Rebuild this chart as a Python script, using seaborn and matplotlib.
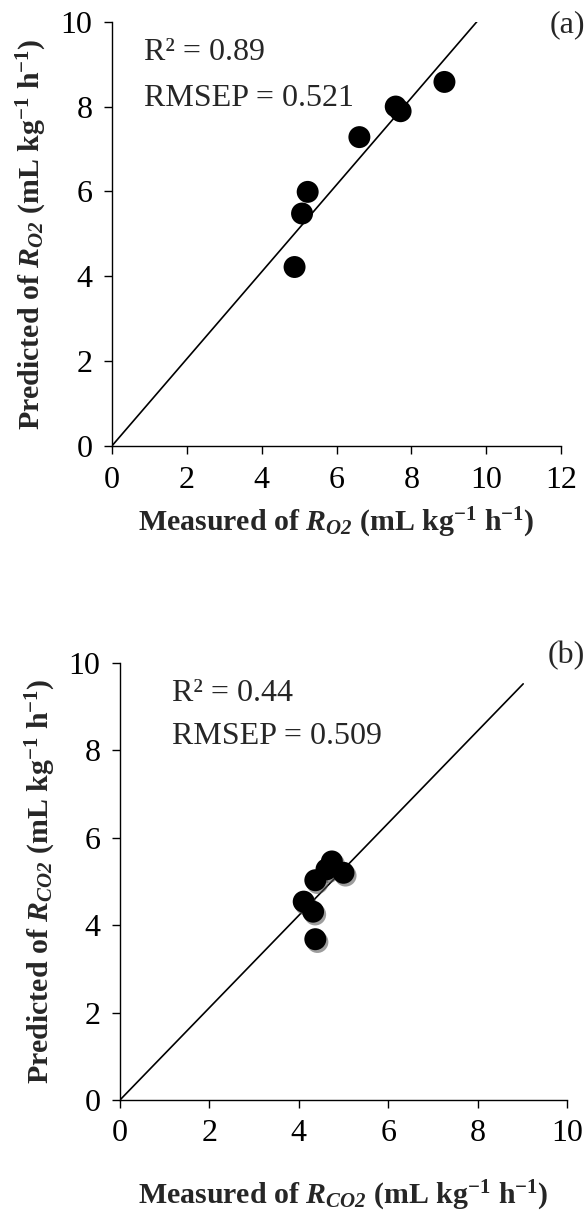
import numpy as np
import pandas as pd
import matplotlib
matplotlib.use("Agg")
import matplotlib.pyplot as plt
import matplotlib.patheffects as pe
import seaborn as sns

# Panel (a): O2 respiration rate, measured vs predicted
o2_measured = [8.88, 7.58, 7.71, 6.61, 5.23, 5.08, 4.88]
o2_predicted = [8.58, 8.00, 7.89, 7.28, 5.99, 5.48, 4.22]
o2_slope = 1.026
o2_line_end = 9.75
o2_r2 = "0.89"
o2_rmsep = "0.521"

# Panel (b): CO2 respiration rate, measured vs predicted
co2_measured = [4.74, 4.62, 5.00, 4.37, 4.11, 4.32, 4.37]
co2_predicted = [5.46, 5.28, 5.20, 5.03, 4.54, 4.31, 3.68]
co2_slope = 1.056
co2_line_end = 9.02
co2_r2 = "0.44"
co2_rmsep = "0.509"

sns.set_style("ticks")
plt.rcParams["font.family"] = ["Liberation Serif", "DejaVu Serif"]
plt.rcParams["mathtext.fontset"] = "custom"
plt.rcParams["mathtext.rm"] = "Liberation Serif"
plt.rcParams["mathtext.it"] = "Liberation Serif:italic"
plt.rcParams["mathtext.bf"] = "Liberation Serif:bold"
plt.rcParams["mathtext.bfit"] = "Liberation Serif:bold:italic"

fig = plt.figure(figsize=(5.87, 12.23), dpi=100)
ax_a = fig.add_axes([0.1903, 0.6352, 0.766, 0.3471])
ax_b = fig.add_axes([0.2044, 0.1006, 0.7615, 0.3572])


def draw_panel(ax, meas, pred, slope, x_end, r2, rmsep, gas, xmax,
               txt_x, txt_y1, txt_y2, shadow, xpad):
    df = pd.DataFrame({"measured": meas, "predicted": pred})
    line_x = np.array([0.0, x_end])
    line_df = pd.DataFrame({"x": line_x, "y": slope * line_x})
    sns.lineplot(data=line_df, x="x", y="y", ax=ax, color="black", linewidth=1.2)
    sc = sns.scatterplot(data=df, x="measured", y="predicted", ax=ax, s=250,
                         color="black", edgecolor="none", zorder=3)
    if shadow:
        sc.collections[-1].set_path_effects([
            pe.SimplePatchShadow(offset=(1.5, -2), shadow_rgbFace="0.3", alpha=0.55),
            pe.Normal()])
    ax.set_xlim(0, xmax)
    ax.set_ylim(0, 10)
    ax.set_xticks(np.arange(0, xmax + 1, 2))
    ax.set_yticks(np.arange(0, 11, 2))
    ax.tick_params(axis="both", direction="out", length=6, width=1.0,
                   labelsize=23, colors="black", pad=8)
    for side in ("top", "right"):
        ax.spines[side].set_visible(False)
    for side in ("left", "bottom"):
        ax.spines[side].set_linewidth(1.0)
        ax.spines[side].set_color("black")
    unit = r" (mL kg$^{\mathbf{-1}}$ h$^{\mathbf{-1}}$)"
    sym = r"$\mathbfit{R}_{\mathbfit{" + gas + r"}}$"
    ax.set_xlabel("Measured of " + sym + unit,
                  fontsize=21.5, fontweight="bold", labelpad=xpad)
    ax.set_ylabel("Predicted of " + sym + unit,
                  fontsize=21.5, fontweight="bold", labelpad=8)
    ax.text(txt_x, txt_y1, "R² = " + r2, fontsize=23, ha="left", va="baseline")
    ax.text(txt_x, txt_y2, "RMSEP = " + rmsep, fontsize=23, ha="left", va="baseline")
    ax.set_facecolor("white")


draw_panel(ax_a, o2_measured, o2_predicted, o2_slope, o2_line_end, o2_r2, o2_rmsep,
           "O2", 12, 0.86, 9.1, 8.02, False, 8)
draw_panel(ax_b, co2_measured, co2_predicted, co2_slope, co2_line_end, co2_r2, co2_rmsep,
           "CO2", 10, 1.16, 9.14, 8.15, True, 22)

fig.text(585 / 587, 1 - 10 / 1223, "(a)", fontsize=23, ha="right", va="top")
fig.text(585 / 587, 1 - 641 / 1223, "(b)", fontsize=23, ha="right", va="top")

fig.savefig("out.png", dpi=100, facecolor="white")
